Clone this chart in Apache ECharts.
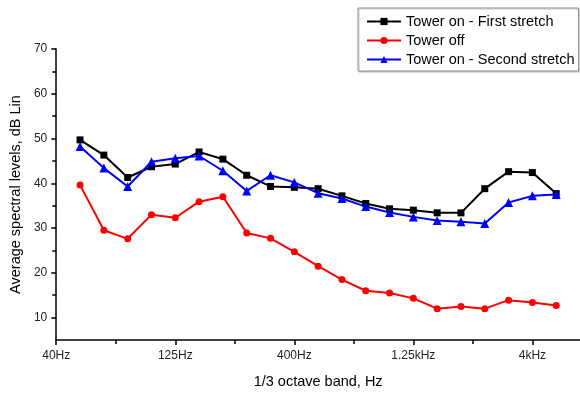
<!DOCTYPE html>
<html>
<head>
<meta charset="utf-8">
<script src="https://cdn.jsdelivr.net/npm/echarts@6/dist/echarts.min.js"></script>
<style>
  html, body { margin: 0; padding: 0; background: #fff; }
  #main { width: 580px; height: 394px; }
</style>
</head>
<body>
<div id="main"></div>
<script>
// 1/3 octave bands, index 0 = 40Hz
const bands = ['40Hz', '50Hz', '63Hz', '80Hz', '100Hz', '125Hz', '160Hz', '200Hz', '250Hz', '315Hz',
  '400Hz', '500Hz', '630Hz', '800Hz', '1kHz', '1.25kHz', '1.6kHz', '2kHz', '2.5kHz', '3.15kHz',
  '4kHz', '5kHz', '6.3kHz']
const labelIdx = [0, 5, 10, 15, 20]
const minorIdx = [2.5, 7.5, 12.5, 17.5]
const yMajor = [10, 20, 30, 40, 50, 60, 70]
const yMinor = [15, 25, 35, 45, 55, 65]

// measured bands 50Hz .. 5kHz
const towerOnFirst = [49.7, 46.3, 41.3, 43.7, 44.3, 47.0, 45.4, 41.8, 39.3, 39.1,
  38.8, 37.2, 35.5, 34.3, 34.0, 33.4, 33.4, 38.8, 42.6, 42.4, 37.7]
const towerOff = [39.6, 29.5, 27.6, 33.0, 32.3, 35.9, 37.0, 28.9, 27.7, 24.7,
  21.5, 18.5, 16.0, 15.5, 14.3, 12.0, 12.5, 12.0, 13.9, 13.4, 12.7]
const towerOnSecond = [48.2, 43.4, 39.3, 44.8, 45.6, 46.1, 42.8, 38.3, 41.8, 40.2,
  37.8, 36.6, 34.8, 33.5, 32.5, 31.7, 31.4, 31.0, 35.7, 37.2, 37.5]

const font = 'Liberation Sans, Arial, sans-serif'
const toPoints = (arr) => arr.map((v, i) => [i + 1, v])

function lineSeries(name, data, color, symbol, size) {
  return {
    name: name,
    type: 'line',
    data: toPoints(data),
    symbol: symbol,
    symbolSize: size,
    lineStyle: { color: color, width: 2 },
    itemStyle: { color: color },
    z: 3
  }
}

const chart = echarts.init(document.getElementById('main'))
chart.setOption({
  animation: false,
  backgroundColor: '#fff',
  textStyle: { fontFamily: font },
  grid: { left: 54, right: 0, top: 49, bottom: 46, containLabel: false },
  legend: {
    orient: 'vertical',
    left: 358,
    top: 8,
    padding: [6, 4, 4, 8],
    itemGap: 4,
    itemWidth: 34,
    itemHeight: 9,
    borderColor: '#909090',
    borderWidth: 1,
    backgroundColor: '#fff',
    shadowColor: 'rgba(0,0,0,0.25)',
    shadowOffsetX: 1,
    shadowOffsetY: 1,
    shadowBlur: 1,
    textStyle: { fontSize: 14.5, color: '#000', fontFamily: font },
    data: ['Tower on - First stretch', 'Tower off', 'Tower on - Second stretch']
  },
  xAxis: [
    {
      type: 'value',
      min: 0,
      max: 22,
      position: 'bottom',
      name: '1/3 octave band, Hz',
      nameLocation: 'middle',
      nameGap: 34,
      nameTextStyle: { fontSize: 14.5, color: '#000' },
      axisLine: { show: true, lineStyle: { color: '#000', width: 1.5 } },
      axisTick: { show: true, length: 5, customValues: labelIdx, lineStyle: { color: '#000', width: 1.5 } },
      axisLabel: {
        customValues: labelIdx,
        margin: 10,
        fontSize: 12,
        color: '#222',
        formatter: (v) => bands[Math.round(v)]
      },
      splitLine: { show: false }
    },
    {
      type: 'value',
      min: 0,
      max: 22,
      position: 'bottom',
      axisLine: { show: false },
      axisTick: { show: true, length: 4, customValues: minorIdx, lineStyle: { color: '#000', width: 1.5 } },
      axisLabel: { show: false },
      splitLine: { show: false }
    }
  ],
  yAxis: [
    {
      type: 'value',
      min: 5,
      max: 70,
      position: 'left',
      name: 'Average spectral levels, dB Lin',
      nameLocation: 'middle',
      nameRotate: 90,
      nameGap: 29,
      nameTextStyle: { fontSize: 14.5, color: '#000' },
      axisLine: { show: true, lineStyle: { color: '#000', width: 1.5 } },
      axisTick: { show: true, length: 5, customValues: yMajor, lineStyle: { color: '#000', width: 1.5 } },
      axisLabel: { customValues: yMajor, margin: 9, fontSize: 12, color: '#222' },
      splitLine: { show: false }
    },
    {
      type: 'value',
      min: 5,
      max: 70,
      position: 'left',
      axisLine: { show: false },
      axisTick: { show: true, length: 4, customValues: yMinor, lineStyle: { color: '#000', width: 1.5 } },
      axisLabel: { show: false },
      splitLine: { show: false }
    }
  ],
  series: [
    lineSeries('Tower on - First stretch', towerOnFirst, '#000000', 'rect', 7),
    lineSeries('Tower off', towerOff, '#ff0000', 'circle', 7),
    lineSeries('Tower on - Second stretch', towerOnSecond, '#0000ff', 'triangle', 9)
  ]
})
</script>
</body>
</html>
